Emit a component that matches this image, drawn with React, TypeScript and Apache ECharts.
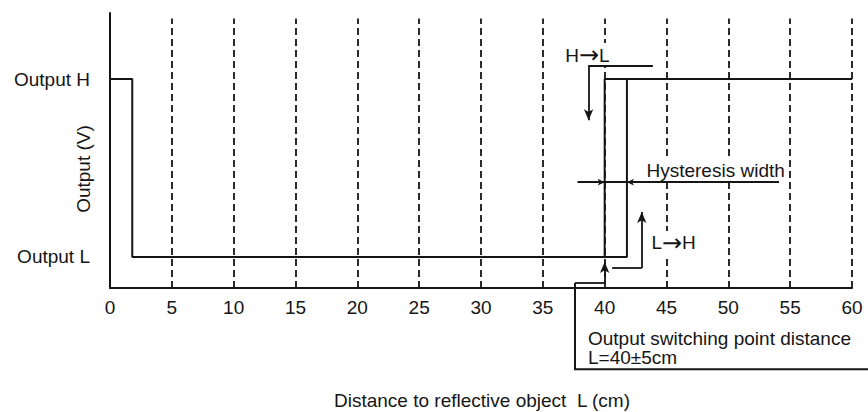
import React, { useEffect, useRef } from "react";
import * as echarts from "echarts";

// ---- data ----
const X_MIN = 0;
const X_MAX = 60;
const X_INTERVAL = 5;
const Y_MIN = 0;
const Y_MAX = 10;
const OUTPUT_H = 7.6;
const OUTPUT_L = 1.13;
const Y_LABELS = ["Output L", "Output H"];

const GRID_X = [5, 10, 15, 20, 25, 30, 35, 40, 45, 50, 55, 60];
const GRID_TOP = 9.8;

const curveX = [0, 1.8, 1.8, 41.8, 41.8, 60];
const curveY = [OUTPUT_H, OUTPUT_H, OUTPUT_L, OUTPUT_L, OUTPUT_H, OUTPUT_H];
const switchX = [40, 40, 41.8];
const switchY = [OUTPUT_L, OUTPUT_H, OUTPUT_H];

// annotation polylines (data coords), last point carries arrow
const arrowHL = [[43.9, 8.1], [38.7, 8.1], [38.7, 6.1]];
const arrowLH = [[40.6, 0.73], [43.0, 0.73], [43.0, 2.76]];
const leaderArrow = [[37.6, 0.18], [40, 0.18], [40, 0.95]];
const hystLine = [[37.8, 3.85], [54.1, 3.85]];
const hystArrowLeft = [[39.2, 3.85], [40, 3.85]];
const hystArrowRight = [[42.6, 3.85], [41.8, 3.85]];
const boxOutline = [[37.6, 0.18], [37.6, -2.95], [63, -2.95]];

const FONT = "'Liberation Sans', Arial, Helvetica, sans-serif";
const ARROW_FONT = "'DejaVu Sans', sans-serif";
const INK = "#151515";
const FS = 19;

function polyToSegments(poly: number[][], arrowSize: number[] | null) {
  const segs: any[] = [];
  for (let i = 0; i < poly.length - 1; i++) {
    const last = i === poly.length - 2 && arrowSize;
    segs.push([
      { coord: poly[i], symbol: "none" },
      last
        ? { coord: poly[i + 1], symbol: "arrow", symbolSize: arrowSize }
        : { coord: poly[i + 1], symbol: "none" },
    ]);
  }
  return segs;
}

export default function App() {
  const ref = useRef<HTMLDivElement>(null);
  useEffect(() => {
    if (!ref.current) return;
    const chart = echarts.init(ref.current, null, { renderer: "svg" });
    const gridLines = GRID_X.map((x) => [
      { coord: [x, Y_MIN], symbol: "none" },
      { coord: [x, GRID_TOP], symbol: "none" },
    ]);
    const annotationSegs = [
      ...polyToSegments(arrowHL, [7, 11]),
      ...polyToSegments(arrowLH, [7, 11]),
      ...polyToSegments(leaderArrow, [7, 11]),
      ...polyToSegments(hystLine, null),
      ...polyToSegments(hystArrowLeft, [5, 7]),
      ...polyToSegments(hystArrowRight, [5, 7]),
    ];
    const option: any = {
      animation: false,
      grid: { left: 110, right: 16, top: 13, bottom: 124, containLabel: false, outerBoundsMode: "none" },
      xAxis: {
        type: "value",
        min: X_MIN,
        max: X_MAX,
        interval: X_INTERVAL,
        axisLine: { show: true, lineStyle: { color: INK, width: 2 } },
        axisTick: { show: false },
        splitLine: { show: false },
        axisLabel: { color: INK, fontSize: FS, fontFamily: FONT, margin: 10 },
      },
      yAxis: {
        type: "value",
        min: Y_MIN,
        max: Y_MAX,
        axisLine: { show: true, lineStyle: { color: INK, width: 2 } },
        axisTick: { show: false },
        splitLine: { show: false },
        axisLabel: {
          customValues: [OUTPUT_L, OUTPUT_H],
          formatter: (v: number) => (Math.abs(v - OUTPUT_H) < 0.01 ? Y_LABELS[1] : Y_LABELS[0]),
          color: INK,
          fontSize: FS,
          fontFamily: FONT,
          margin: 20,
        },
      },
      series: [
        {
          type: "line",
          data: curveX.map((x, i) => [x, curveY[i]]),
          showSymbol: false,
          symbol: "none",
          lineStyle: { color: INK, width: 2 },
          z: 5,
          silent: true,
          markLine: {
            silent: true,
            symbol: ["none", "none"],
            label: { show: false },
            lineStyle: { color: INK, width: 1.8, type: [7, 4] },
            emphasis: { disabled: true },
            data: gridLines,
            z: 1,
          },
        },
        {
          type: "line",
          data: switchX.map((x, i) => [x, switchY[i]]),
          showSymbol: false,
          symbol: "none",
          lineStyle: { color: INK, width: 2 },
          z: 6,
          silent: true,
          markLine: {
            silent: true,
            symbol: ["none", "none"],
            label: { show: false },
            lineStyle: { color: INK, width: 1.8, type: "solid" },
            itemStyle: { color: INK },
            emphasis: { disabled: true },
            data: annotationSegs,
            z: 7,
          },
        },
      ],
    };
    chart.setOption(option);

    const px = (p: number[]) => chart.convertToPixel({ gridIndex: 0 }, p) as number[];
    const arrowText = (a: string, b: string) => ({
      text: `{t|${a}}{a|→}{t|${b}}`,
      backgroundColor: "#fff",
      padding: [0, 1],
      rich: {
        t: { fill: INK, fontSize: FS, fontFamily: FONT },
        a: { fill: INK, fontSize: 24, fontFamily: ARROW_FONT },
      },
    });
    const hl = px([38.6, 8.47]);
    const hyst = px([43.3, 4.29]);
    const lh = px([43.7, 1.64]);
    const b1 = px([38.65, -1.82]);
    const b2 = px([38.65, -2.51]);
    const box = boxOutline.map(px);
    chart.setOption({
      graphic: [
        { type: "text", x: hl[0], y: hl[1], z: 3, style: { ...arrowText("H", "L"), align: "center", verticalAlign: "middle" } },
        {
          type: "text", x: hyst[0], y: hyst[1], z: 3,
          style: { text: "Hysteresis width", fill: INK, font: `${FS}px ${FONT}`, backgroundColor: "#fff", padding: [4, 1, 2, 1], align: "left", verticalAlign: "middle" },
        },
        { type: "text", x: lh[0], y: lh[1], z: 3, style: { ...arrowText("L", "H"), align: "left", verticalAlign: "middle" } },
        { type: "text", x: b1[0], y: b1[1], z: 3, style: { text: "Output switching point distance", fill: INK, font: `${FS}px ${FONT}`, align: "left", verticalAlign: "middle" } },
        { type: "text", x: b2[0], y: b2[1], z: 3, style: { text: "L=40±5cm", fill: INK, font: `${FS}px ${FONT}`, align: "left", verticalAlign: "middle" } },
        { type: "polyline", z: 100, shape: { points: box }, style: { stroke: INK, lineWidth: 2, fill: null } },
        { type: "text", x: 83, y: 169, rotation: Math.PI / 2, z: 3, style: { text: "Output (V)", fill: INK, font: `${FS}px ${FONT}`, align: "center", verticalAlign: "middle" } },
        { type: "text", x: 482, y: 400, z: 3, style: { text: "Distance to reflective object  L (cm)", fill: INK, font: `${FS}px ${FONT}`, align: "center", verticalAlign: "middle" } },
      ],
    });
    return () => chart.dispose();
  }, []);
  return <div ref={ref} style={{ width: 868, height: 412, position: "absolute", left: 0, top: 0, background: "#fff" }} />;
}
